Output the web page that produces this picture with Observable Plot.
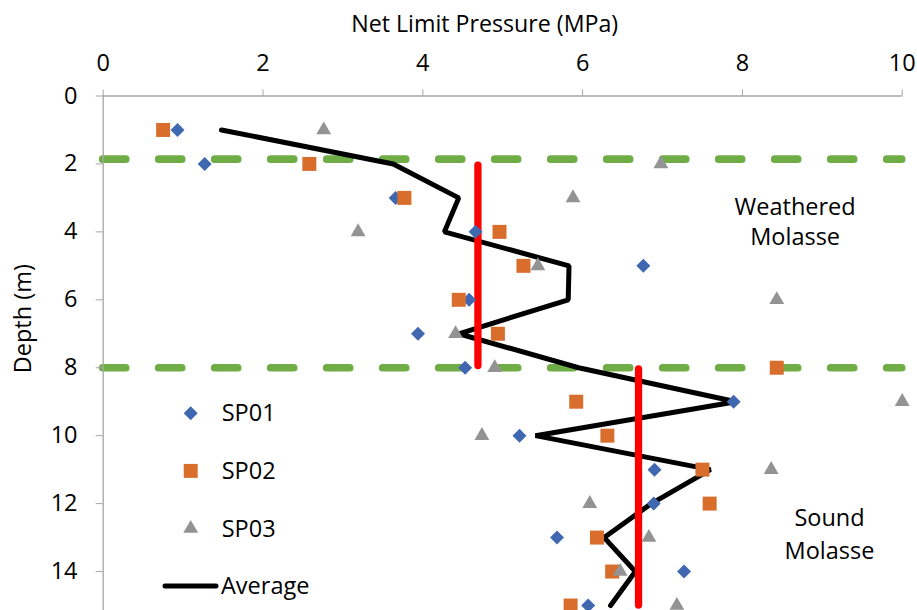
<!DOCTYPE html>
<html>
<head>
<meta charset="utf-8">
<script src="https://cdn.jsdelivr.net/npm/d3@7"></script>
<script src="https://cdn.jsdelivr.net/npm/@observablehq/plot@0.6"></script>
<style>
  html, body { margin: 0; padding: 0; background: #fff; overflow: hidden; }
  #wrap { position: relative; width: 917px; height: 610px; }
  #legend { position: absolute; left: 0; top: 0; pointer-events: none; }
  svg { font-family: "Open Sans", sans-serif; }
</style>
</head>
<body>
<div id="wrap"></div>
<script>
// ---- data ----
const depths = [1, 2, 3, 4, 5, 6, 7, 8, 9, 10, 11, 12, 13, 14, 15];
const sp01 = [0.93, 1.27, 3.66, 4.66, 6.76, 4.58, 3.94, 4.53, 7.89, 5.21, 6.90, 6.89, 5.68, 7.27, 6.07];
const sp02 = [0.75, 2.58, 3.77, 4.96, 5.26, 4.45, 4.94, 8.43, 5.92, 6.31, 7.50, 7.59, 6.18, 6.37, 5.85];
const sp03 = [2.76, 6.98, 5.88, 3.19, 5.44, 8.43, 4.41, 4.90, 10.0, 4.74, 8.36, 6.09, 6.83, 6.47, 7.18];
const average = [1.48, 3.63, 4.45, 4.27, 5.83, 5.82, 4.45, 5.95, 7.92, 5.41, 7.60, 6.86, 6.27, 6.66, 6.35];
const layerBoundaries = [1.86, 8];
const zoneNames = ["Weathered Molasse", "Sound Molasse"];
const zoneMeanPressure = [4.69, 6.70];
const zoneTop = [2.05, 8.05];
const zoneBottom = [7.95, 15];
const xTicks = [0, 2, 4, 6, 8, 10];
const yTicks = [0, 2, 4, 6, 8, 10, 12, 14];
const seriesNames = ["SP01", "SP02", "SP03", "Average"];
const xTitle = "Net Limit Pressure (MPa)";
const yTitle = "Depth (m)";

// ---- tables ----
const rows = (vals) => depths.map((d, i) => ({depth: d, p: vals[i]}));
const zones = zoneNames.map((n, i) => ({name: n, x: zoneMeanPressure[i], y1: zoneTop[i], y2: zoneBottom[i]}));

const blue = "#3F68B1", orange = "#D86D2C", grey = "#939393";
const axisGrey = "#A6A6A6";
const fs = 23.5;

const chart = Plot.plot({
  width: 917,
  height: 610,
  marginTop: 95.5,
  marginLeft: 102.7,
  marginRight: 15.3,
  marginBottom: 5,
  style: {fontFamily: "Open Sans, sans-serif", fontSize: fs + "px", color: "black", background: "white", overflow: "hidden"},
  x: {domain: [0, 10]},
  y: {domain: [0, 15], reverse: true},
  marks: [
    // layer boundaries
    Plot.ruleY(layerBoundaries, {stroke: "#70AD47", strokeWidth: 7.7, strokeDasharray: "23,33", strokeLinecap: "round"}),
    // axis lines and ticks
    Plot.ruleY([0], {stroke: axisGrey, strokeWidth: 1.3}),
    Plot.ruleX([0], {y1: 0, y2: 15.3, stroke: axisGrey, strokeWidth: 1.3}),
    Plot.axisX({anchor: "top", ticks: xTicks, tickSize: 7, tickFormat: () => "", stroke: axisGrey, label: null}),
    Plot.axisY({anchor: "left", ticks: yTicks, tickSize: 7, tickFormat: () => "", stroke: axisGrey, label: null}),
    // tick labels
    Plot.text(xTicks, {x: d => d, frameAnchor: "top", lineAnchor: "bottom", dy: -25.5, fontSize: fs, fill: "black"}),
    Plot.text(yTicks, {y: d => d, frameAnchor: "left", textAnchor: "end", dx: -25.7, fontSize: fs, fill: "black"}),
    // axis titles
    Plot.text([xTitle], {frameAnchor: "top", lineAnchor: "bottom", dx: -18, dy: -64, fontSize: 23.2, fill: "black"}),
    Plot.text([yTitle], {frameAnchor: "left", textAnchor: "middle", rotate: -90, dx: -80, dy: -32, fontSize: fs, fill: "black"}),
    // average profile
    Plot.line(rows(average), {x: "p", y: "depth", stroke: "black", strokeWidth: 5, strokeLinejoin: "miter"}),
    // zone means
    Plot.ruleX(zones, {x: "x", y1: "y1", y2: "y2", stroke: "#FF0000", strokeWidth: 7.3, strokeLinecap: "round"}),
    // points
    Plot.dot(rows(sp01), {x: "p", y: "depth", symbol: "diamond2", r: 6.3, fill: blue, stroke: "none"}),
    Plot.dot(rows(sp02), {x: "p", y: "depth", symbol: "square2", r: 8.9, fill: orange, stroke: "none"}),
    Plot.dot(rows(sp03), {x: "p", y: "depth", symbol: "triangle2", r: 7.1, fill: grey, stroke: "none"}),
    // zone annotations
    Plot.text(["Weathered", "Molasse"], {x: 8.66, y: [3.51, 4.39], fontSize: fs, fill: "black", lineAnchor: "bottom"}),
    Plot.text(["Sound", "Molasse"], {x: 9.09, y: [12.65, 13.62], fontSize: fs, fill: "black", lineAnchor: "bottom"})
  ]
});

const wrap = document.getElementById("wrap");
wrap.appendChild(chart);

// ---- legend (overlay) ----
const leg = d3.select(wrap).append("svg").attr("id", "legend").attr("width", 917).attr("height", 610)
  .style("font-family", "Open Sans, sans-serif").style("font-size", fs + "px");
const symArea = r => Math.PI * r * r;
const legendItems = [
  {name: seriesNames[0], sym: d3.symbolDiamond2, r: 6.3, color: blue},
  {name: seriesNames[1], sym: d3.symbolSquare2, r: 8.9, color: orange},
  {name: seriesNames[2], sym: d3.symbolTriangle2, r: 7.1, color: grey},
  {name: seriesNames[3], line: true}
];
legendItems.forEach((it, i) => {
  const cy = 413.3 + i * 57.6;
  const g = leg.append("g");
  if (it.line) {
    g.append("line").attr("x1", 165).attr("x2", 216).attr("y1", cy).attr("y2", cy)
      .attr("stroke", "black").attr("stroke-width", 5).attr("stroke-linecap", "round");
  } else {
    g.append("path").attr("transform", `translate(190.7,${cy})`)
      .attr("d", d3.symbol(it.sym, symArea(it.r))()).attr("fill", it.color);
  }
  g.append("text").attr("x", it.line ? 221 : 221.7).attr("y", cy + 8).text(it.name).attr("fill", "black");
});
</script>
</body>
</html>
